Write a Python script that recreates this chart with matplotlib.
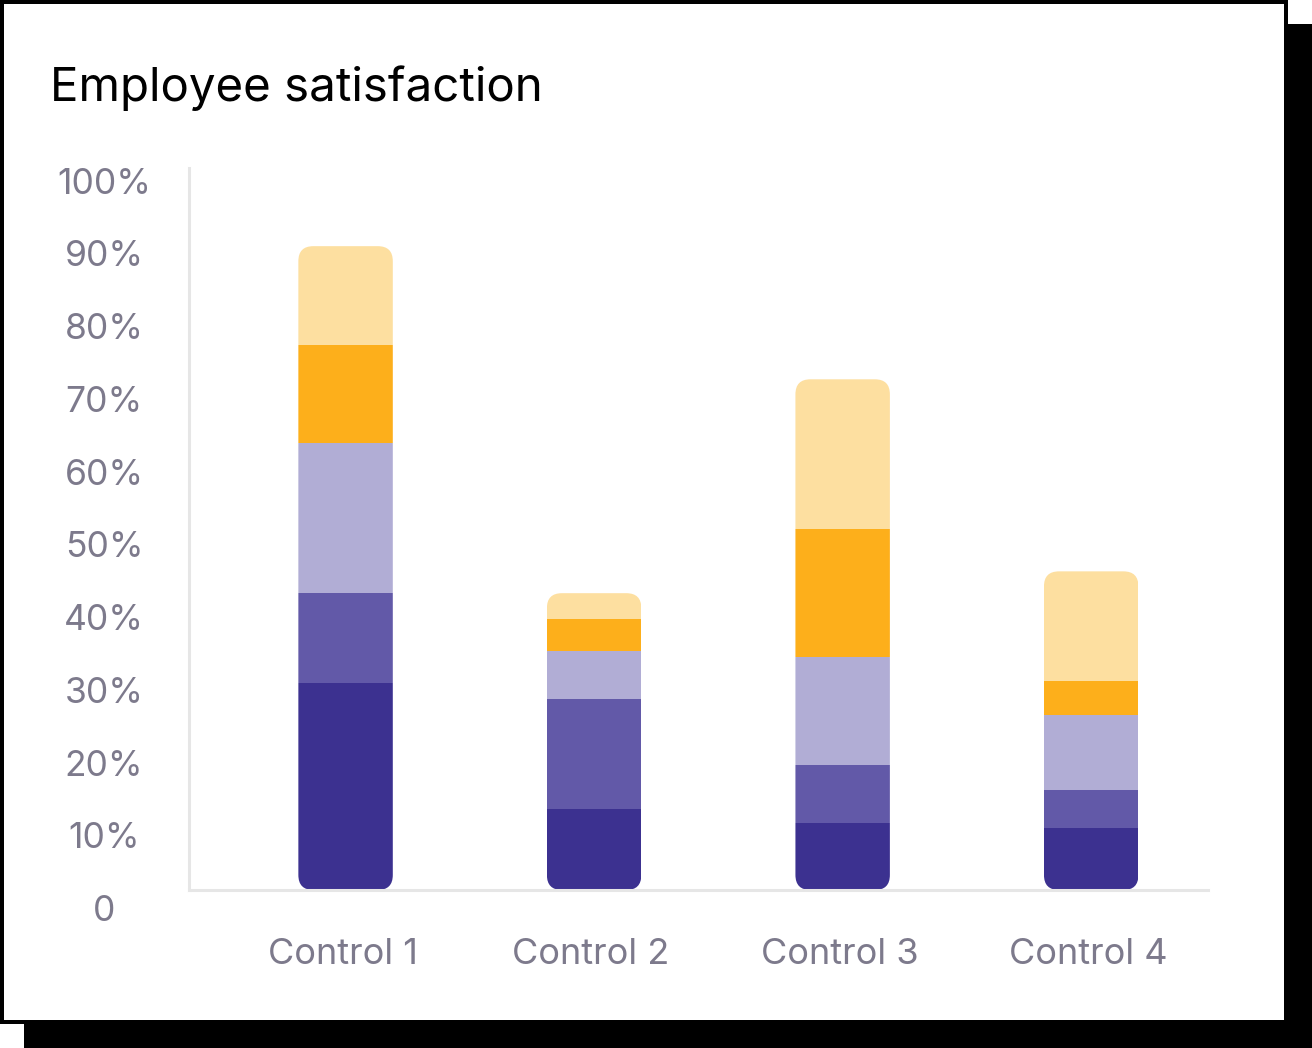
import matplotlib
matplotlib.use("Agg")
import matplotlib.pyplot as plt
from matplotlib.patches import Rectangle, FancyBboxPatch
from matplotlib.transforms import ScaledTranslation
import numpy as np

plt.rcParams['font.family'] = ['Inter', 'DejaVu Sans']

categories = ["Control 1", "Control 2", "Control 3", "Control 4"]
series_names = ["Very dissatisfied", "Dissatisfied", "Neutral", "Satisfied", "Very satisfied"]
s1 = [28.4, 11.1, 9.2, 8.5]
s2 = [12.4, 15.2, 8.0, 5.2]
s3 = [20.6, 6.6, 14.8, 10.3]
s4 = [13.5, 4.3, 17.6, 4.7]
s5 = [13.6, 3.6, 20.6, 15.1]
series = [s1, s2, s3, s4, s5]
colors = ["#3C3190", "#6259A8", "#B1ADD5", "#FDAF1B", "#FDDFA0"]
yticks = [0, 10, 20, 30, 40, 50, 60, 70, 80, 90, 100]
ytick_labels = ["0", "10%", "20%", "30%", "40%", "50%", "60%", "70%", "80%", "90%", "100%"]
title = "Employee satisfaction"

W, H = 1312, 1048
DPI = 100
fig = plt.figure(figsize=(W / DPI, H / DPI), dpi=DPI, facecolor="white")

# card with shadow
fig.patches.append(Rectangle((24 / W, 0), (W - 24) / W, (H - 24) / H,
                             transform=fig.transFigure, facecolor="black", edgecolor="none", zorder=0))
fig.patches.append(Rectangle((0, 24 / H), 1288 / W, 1024 / H,
                             transform=fig.transFigure, facecolor="black", edgecolor="none", zorder=0.1))
fig.patches.append(Rectangle((4 / W, 28 / H), 1280 / W, 1016 / H,
                             transform=fig.transFigure, facecolor="white", edgecolor="none", zorder=0.2))

# axes: left 189, right 1208, bottom 890, top (100%) 162.5
ax_l, ax_r, ax_b, ax_t = 189, 1208, 890, 162.5
ax = fig.add_axes([ax_l / W, (H - ax_b) / H, (ax_r - ax_l) / W, (ax_b - ax_t) / H])
ax.set_facecolor("none")
ax.set_zorder(1)

x = np.arange(len(categories))
width = 0.38
ax.set_xlim(-0.63, 3.47)
ax.set_ylim(0, 100)

px_x = (ax_r - ax_l) / (ax.get_xlim()[1] - ax.get_xlim()[0])
px_y = (ax_b - ax_t) / 100.0
radius_px = 15
rx = radius_px / px_x
ry = radius_px / px_y

totals = np.sum(np.array(series), axis=0)
bottoms = np.zeros(len(categories))
bar_containers = []
for vals, c in zip(series, colors):
    bc = ax.bar(x, vals, width, bottom=bottoms, color=c, edgecolor="none", zorder=2)
    bar_containers.append(bc)
    bottoms = bottoms + np.array(vals)

for i in range(len(categories)):
    clip = FancyBboxPatch((x[i] - width / 2, 0), width, totals[i],
                          boxstyle=f"round,pad=0,rounding_size={rx}",
                          mutation_aspect=ry / rx,
                          facecolor="none", edgecolor="none", transform=ax.transData)
    ax.add_patch(clip)
    for bc in bar_containers:
        bc.patches[i].set_clip_path(clip)

# spines
for s in ["top", "right"]:
    ax.spines[s].set_visible(False)
for s in ["left", "bottom"]:
    ax.spines[s].set_color("#E6E6E6")
    ax.spines[s].set_linewidth(2.2)
ax.spines["left"].set_bounds(0, 99.2)

label_color = "#7D7A8C"
ax.set_yticks(yticks)
ax.set_yticklabels(ytick_labels, fontsize=25.5, color=label_color, ha="center")
ax.tick_params(axis="y", length=0, pad=61.2)
offset = ScaledTranslation(0, -18 / DPI, fig.dpi_scale_trans)
for lab in ax.get_yticklabels():
    lab.set_transform(lab.get_transform() + offset)

ax.set_xticks(x)
ax.set_xticklabels(categories, fontsize=26.0, color=label_color)
ax.tick_params(axis="x", length=0, pad=34.5)
xoff = ScaledTranslation(-3 / DPI, 0, fig.dpi_scale_trans)
for lab in ax.get_xticklabels():
    lab.set_transform(lab.get_transform() + xoff)

fig.text(50 / W, (H - 101) / H, title, fontsize=34.2, color="black", ha="left", va="baseline")

fig.savefig("out.png", dpi=DPI, facecolor="white")
